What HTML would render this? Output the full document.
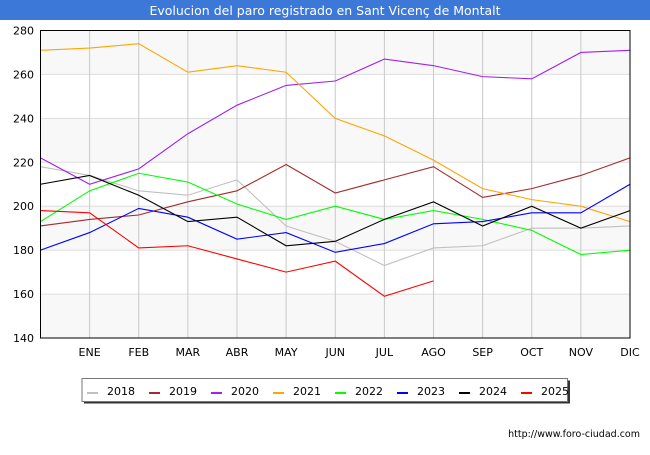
<!DOCTYPE html>
<html><head><meta charset="utf-8"><style>
body{margin:0;background:#fff;font-family:"Liberation Sans","DejaVu Sans",sans-serif}
</style></head><body>
<svg id="chart" width="650" height="450" xmlns="http://www.w3.org/2000/svg" font-family="'DejaVu Sans','Liberation Sans',sans-serif">
<rect x="0" y="0" width="650" height="20" fill="#3c78d8"/>
<text x="325" y="15" fill="#fff" font-size="12.5" text-anchor="middle">Evolucion del paro registrado en Sant Vicenç de Montalt</text>
<g id="grid"></g>
<g id="series"></g>
<rect x="40.5" y="30.5" width="589.5" height="307.5" fill="none" stroke="#000" stroke-width="1"/>
<g id="legend"></g>
<text x="640" y="437" font-size="9.5" text-anchor="end" fill="#000">http://www.foro-ciudad.com</text>
</svg>
<script>
const months=["","ENE","FEB","MAR","ABR","MAY","JUN","JUL","AGO","SEP","OCT","NOV","DIC"];
const yTicks=[140,160,180,200,220,240,260,280];
const years=["2018","2019","2020","2021","2022","2023","2024","2025"];
const colors=["#c0c0c0","#a52a2a","#a020f0","#ffa500","#00ff00","#0000ff","#000000","#ff0000"];
const s2018=[218,214,207,205,212,191,184,173,181,182,190,190,191];
const s2019=[191,194,196,202,207,219,206,212,218,204,208,214,222];
const s2020=[222,210,217,233,246,255,257,267,264,259,258,270,271];
const s2021=[271,272,274,261,264,261,240,232,221,208,203,200,193];
const s2022=[193,207,215,211,201,194,200,194,198,194,189,178,180];
const s2023=[180,188,199,195,185,188,179,183,192,193,197,197,210];
const s2024=[210,214,205,193,195,182,184,194,202,191,200,190,198];
const s2025=[198,197,181,182,176,170,175,159,166];
const allSeries=[s2018,s2019,s2020,s2021,s2022,s2023,s2024,s2025];
const X0=40.5,X1=630,Y0=338,Y1=30.5,VMIN=140,VMAX=280;
const x=i=>X0+i*(X1-X0)/(months.length-1);
const y=v=>Y0-(v-VMIN)*(Y0-Y1)/(VMAX-VMIN);
const NS="http://www.w3.org/2000/svg";
function mk(tag,attrs,parent){const e=document.createElementNS(NS,tag);for(const k in attrs)e.setAttribute(k,attrs[k]);parent.appendChild(e);return e;}
const grid=document.getElementById('grid');
for(let k=0;k<yTicks.length-1;k++){
  const b=mk('rect',{x:X0,y:y(yTicks[k+1]),width:X1-X0,height:y(yTicks[k])-y(yTicks[k+1]),fill:k%2===0?'#f8f8f8':'#ffffff'},grid);
  
  
}
yTicks.forEach(t=>{
  const l=mk('line',{x1:X0,x2:X1,y1:y(t),y2:y(t),stroke:'#dddddd','stroke-width':1},grid);
  
  
  const tx=mk('text',{x:34,y:y(t)+4,'font-size':11,'text-anchor':'end',fill:'#000'},grid);
  tx.textContent=t;
  
  
});
months.forEach((m,i)=>{
  if(i>0){
    const l=mk('line',{x1:x(i),x2:x(i),y1:Y1,y2:Y0,stroke:'#c8c8c8','stroke-width':1},grid);
    
    
  }
  if(m){
    const tx=mk('text',{x:x(i),y:356,'font-size':11,'text-anchor':'middle',fill:'#000'},grid);
    tx.textContent=m;
    
    
  }
});
const sg=document.getElementById('series');
allSeries.forEach((s,k)=>{
  const p=mk('polyline',{points:s.map((v,i)=>x(i)+','+y(v)).join(' '),fill:'none',stroke:colors[k],'stroke-width':1.1},sg);
  
  
});
const lg=document.getElementById('legend');
const sh=mk('rect',{x:84,y:380.5,width:486,height:23,fill:'#333'},lg);


const box=mk('rect',{x:82,y:378.5,width:485.5,height:23,fill:'#fff',stroke:'#777','stroke-width':1},lg);


years.forEach((yr,k)=>{
  const ex=87+k*62;
  const g=mk('g',{},lg);
  
  
  mk('rect',{x:ex,y:392,width:11,height:2,fill:colors[k]},g);
  const t=mk('text',{x:ex+20,y:395,'font-size':11,fill:'#000'},g);
  t.textContent=yr;
});
</script>
</body></html>
